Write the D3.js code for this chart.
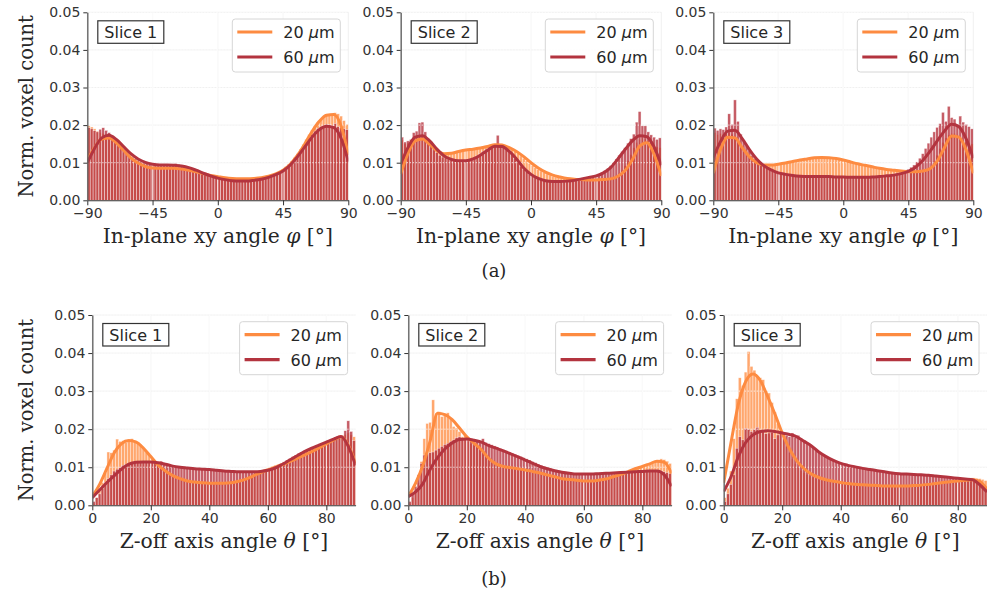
<!DOCTYPE html>
<html><head><meta charset="utf-8">
<script src="https://cdn.jsdelivr.net/npm/d3@7"></script>
<style>body{margin:0;background:#fff;} svg{display:block;}</style>
</head><body><svg id="c" width="987" height="590"></svg>
<script>
// ---------------- DATA (values in units of 1e-3, normalised voxel count) ----------------
const seriesNames = ["20", "60"];            // µm
const sliceLabels = ["Slice 1", "Slice 2", "Slice 3"];
const xyTicks = [-90, -45, 0, 45, 90];
const zTicks = [0, 20, 40, 60, 80];
const yTicks = [0, 0.01, 0.02, 0.03, 0.04, 0.05];
const captions = ["(a)", "(b)"];

// In-plane xy angle histograms: 2° bins from -90 to 90
const xy1_20 = [19.8,19.5,19.0,18.4,18.0,17.8,17.2,16.7,16.0,15.2, 14.3,13.4,12.6,11.8,11.1,10.5,10.0,9.6,9.2,8.9, 8.7,8.6,8.5,8.5,8.4,8.4,8.4,8.4,8.4,8.4, 8.3,8.3,8.2,8.1,8.0,7.8,7.6,7.4,7.2,7.0, 6.8,6.6,6.5,6.3,6.2,6.1,6.0,5.9,5.8,5.8, 5.7,5.7,5.7,5.7,5.7,5.8,5.8,5.9,6.0,6.1, 6.2,6.4,6.6,6.8,7.1,7.4,7.8,8.3,8.9,9.6, 10.4,11.3,12.4,13.6,14.9,16.2,17.5,18.7,19.8,20.8, 21.6,22.2,22.5,22.8,22.9,23.3,23.0,22.4,21.2,20.2];
const xy1_60 = [19.3,19.0,18.5,18.2,18.9,19.3,18.6,18.0,17.2,16.2, 15.3,14.3,13.5,12.6,12.0,11.4,11.0,10.6,10.2,9.9, 9.7,9.5,9.4,9.4,9.3,9.3,9.4,9.3,9.4,9.5, 9.8,9.6,9.3,9.0,8.7,8.4,8.1,7.8,7.5,7.2, 6.9,6.6,6.4,6.2,6.0,5.9,5.7,5.6,5.5,5.4, 5.3,5.3,5.2,5.2,5.2,5.3,5.3,5.4,5.5,5.7, 5.9,6.1,6.4,6.7,7.0,7.4,7.8,8.3,8.9,9.6, 10.4,11.3,12.3,13.3,14.4,15.5,16.5,17.5,18.4,19.1, 19.6,19.9,20.2,20.1,19.9,20.4,19.6,19.3,19.0,18.8];
const xy2_20 = [16.0,15.0,15.2,15.5,16.5,17.0,17.4,17.0,16.2,15.0, 14.0,13.2,12.7,12.4,12.3,12.4,12.5,12.7,12.9,13.1, 13.2,13.3,13.4,13.5,13.6,13.7,13.9,14.1,14.3,14.5, 14.7,14.9,15.0,15.1,15.0,14.7,14.3,13.9,13.5,13.0, 12.4,11.8,11.2,10.5,9.8,9.2,8.7,8.2,7.8,7.4, 7.0,6.7,6.4,6.2,6.0,5.9,5.8,5.7,5.6,5.6, 5.5,5.5,5.4,5.4,5.4,5.4,5.4,5.4,5.5,5.5, 5.6,5.7,5.9,6.2,6.6,7.2,8.0,9.2,10.6,12.2, 14.0,15.4,16.2,16.6,16.4,15.8,15.2,14.6,14.2,14.0];
const xy2_60 = [16.8,15.5,15.8,16.2,18.0,18.4,20.6,20.8,18.2,16.4, 15.0,13.8,12.8,12.0,11.5,11.3,11.0,10.8,10.6,10.5, 10.4,10.4,10.5,10.7,11.0,11.4,11.9,12.4,13.0,13.6, 14.2,14.6,15.0,17.3,14.8,14.4,13.8,13.0,12.1,11.1, 10.1,9.1,8.3,7.6,7.0,6.5,6.1,5.8,5.5,5.3, 5.1,5.0,5.0,4.9,4.9,5.0,5.0,5.1,5.2,5.3, 5.5,5.6,5.8,6.0,6.1,6.3,6.5,6.7,7.0,7.4, 7.9,8.5,9.2,10.0,11.0,12.0,13.0,14.0,15.2,16.4, 17.6,20.8,23.6,19.8,19.8,18.2,17.4,16.8,16.2,16.6];
const xy3_20 = [18.0,17.5,17.8,17.6,17.8,18.0,17.6,17.0,16.0,14.8, 13.6,12.5,11.5,10.7,10.1,9.7,9.4,9.3,9.3,9.3, 9.4,9.5,9.6,9.7,9.8,10.0,10.1,10.3,10.5,10.6, 10.8,10.9,11.0,11.1,11.2,11.3,11.3,11.4,11.4,11.3, 11.3,11.2,11.1,10.9,10.8,10.6,10.4,10.2,10.0,9.8, 9.6,9.4,9.3,9.1,8.9,8.8,8.6,8.5,8.3,8.2, 8.1,8.0,7.9,7.8,7.8,7.7,7.6,7.6,7.6,7.6, 7.6,7.7,7.8,8.0,8.4,9.2,10.4,12.0,13.8,15.4, 16.6,17.4,17.8,17.8,17.4,16.8,16.0,15.6,15.2,15.0];
const xy3_60 = [19.2,18.6,19.0,18.8,19.5,23.0,20.2,26.7,21.0,17.6, 16.0,14.6,13.2,12.0,11.0,10.2,9.5,9.0,8.6,8.2, 7.8,7.5,7.3,7.1,6.9,6.8,6.7,6.6,6.5,6.5, 6.4,6.4,6.3,6.3,6.3,6.3,6.3,6.3,6.3,6.2, 6.3,6.2,6.2,6.2,6.2,6.1,6.1,6.1,6.1,6.0, 6.1,6.1,6.1,6.2,6.2,6.3,6.3,6.4,6.5,6.6, 6.7,6.8,7.0,7.1,7.3,7.6,7.9,8.3,8.8,9.4, 10.2,11.2,12.4,13.8,15.2,16.8,18.2,19.4,20.4,23.4, 21.0,25.0,22.0,21.6,20.2,22.4,20.8,20.2,19.6,19.0];

// In-plane xy angle KDE curves: sampled every 5° from -90 to 90
const xy1_20k = [10.5,14.0,16.3,16.6,15.3,13.3,11.3,9.9,9.0,8.6, 8.5,8.5,8.5,8.3,8.0,7.6,7.1,6.6,6.3,6.0, 5.8,5.7,5.7,5.8,6.0,6.4,7.0,8.0,9.6,12.0, 15.0,18.3,21.0,22.6,22.8,19.8,12.0];
const xy1_60k = [10.0,13.8,16.6,17.3,16.2,14.3,12.4,11.0,10.1,9.6, 9.4,9.4,9.3,9.1,8.7,8.0,7.2,6.5,5.9,5.5, 5.2,5.1,5.1,5.3,5.6,6.1,6.8,7.8,9.4,11.6, 14.2,16.8,18.8,19.7,19.3,16.5,10.3];
const xy2_20k = [7.0,12.5,15.8,16.3,14.9,13.2,12.4,12.5,13.0,13.4, 13.6,13.9,14.3,14.8,14.7,14.0,13.0,11.6,10.0,8.6, 7.5,6.7,6.2,5.8,5.6,5.5,5.4,5.4,5.5,5.7, 6.4,7.9,10.8,14.4,15.3,12.3,6.5];
const xy2_60k = [9.6,14.0,16.8,17.2,15.8,13.6,11.8,10.9,10.5,10.5, 11.0,12.0,13.3,14.4,14.3,13.0,11.0,8.6,6.9,5.8, 5.2,5.0,5.0,5.1,5.3,5.7,6.1,6.5,7.3,8.7, 11.0,13.5,15.8,17.2,16.9,14.2,9.3];
const xy3_20k = [7.2,13.5,16.8,16.6,14.0,11.6,10.0,9.4,9.4,9.6, 9.9,10.3,10.7,11.0,11.3,11.4,11.3,11.1,10.7,10.2, 9.7,9.3,8.9,8.5,8.2,8.0,7.8,7.6,7.6,7.8, 8.4,10.4,14.0,17.1,16.8,13.4,7.2];
const xy3_60k = [11.4,15.6,18.4,18.6,16.4,13.5,11.0,9.2,8.1,7.3, 6.9,6.6,6.4,6.3,6.3,6.3,6.3,6.2,6.2,6.1, 6.1,6.1,6.2,6.3,6.5,6.7,7.1,7.7,8.8,10.6, 13.0,15.8,18.4,20.2,19.6,16.4,11.2];

// Z-off axis angle histograms: 1° bins from 0 to 90
const z1_20 = [0.5,2.0,4.0,6.0,8.5,14.0,13.8,14.5,17.4,16.8, 17.0,16.5,17.2,17.5,17.0,16.5,16.0,15.0,14.0,13.0, 12.3,11.2,10.5,9.8,9.2,8.7,8.2,7.8,7.4,7.1, 6.8,6.6,6.4,6.3,6.2,6.1,6.0,6.0,5.9,5.9, 5.9,5.8,5.8,5.8,5.9,5.9,6.0,6.1,6.2,6.3, 6.5,6.8,7.1,7.5,7.9,8.3,8.7,9.0,9.3,9.6, 9.9,10.2,10.5,10.8,11.1,11.4,11.8,12.1,12.5,12.8, 13.2,13.5,13.9,14.2,14.6,15.0,15.3,15.7,16.0,16.4, 16.8,17.1,17.4,17.7,18.0,18.2,18.6,19.0,18.5,18.0];
const z1_60 = [1.0,2.0,3.0,4.5,6.0,7.0,8.0,9.0,9.5,10.0, 10.5,10.8,11.0,11.2,11.3,11.4,11.5,11.5,11.4,11.5, 11.3,11.4,11.2,11.6,11.1,10.8,10.6,10.4,10.3,10.1, 10.0,9.9,9.8,9.8,9.7,9.6,9.6,9.5,9.5,9.4, 9.4,9.3,9.3,9.2,9.1,9.1,9.0,9.0,8.9,8.9, 8.8,8.8,8.8,8.7,8.8,8.8,8.8,8.9,9.0,9.1, 9.3,9.6,10.0,10.4,10.9,11.4,11.9,12.3,12.8,13.2, 13.6,14.0,14.3,14.7,15.0,15.3,15.6,15.9,16.1,16.4, 16.7,16.9,17.2,17.6,18.0,18.4,19.6,22.2,19.4,17.0];
const z2_20 = [0.5,2.0,3.5,6.0,11.5,17.5,21.5,21.8,27.7,24.2, 24.6,23.3,24.0,24.3,22.9,20.7,20.3,19.4,18.0,18.3, 16.8,16.2,15.8,15.5,15.0,14.3,13.5,12.6,11.9,11.3, 10.8,10.5,10.3,10.1,10.0,9.9,9.8,9.7,9.5,9.4, 9.3,9.1,9.0,8.8,8.6,8.5,8.3,8.1,7.9,7.7, 7.5,7.3,7.1,7.0,6.9,6.8,6.7,6.6,6.5,6.5, 6.4,6.4,6.4,6.5,6.5,6.6,6.7,6.9,7.1,7.3, 7.5,7.8,8.1,8.3,8.6,8.9,9.2,9.5,9.8,10.1, 10.3,10.6,10.9,11.2,11.5,11.8,12.2,12.0,11.6,11.0];
const z2_60 = [1.0,3.0,5.0,8.0,11.0,13.2,13.5,13.8,14.0,14.5, 15.0,15.5,16.0,16.3,16.8,17.2,17.8,18.0,17.6,17.5, 17.5,17.3,17.2,17.0,16.8,17.5,16.5,16.2,15.9,15.6, 15.2,14.9,14.6,14.3,14.0,13.7,13.4,13.1,12.8,12.5, 12.2,11.9,11.5,11.2,10.8,10.5,10.2,10.0,9.7,9.5, 9.3,9.1,8.9,8.8,8.7,8.6,8.5,8.4,8.4,8.3, 8.3,8.3,8.3,8.4,8.4,8.4,8.4,8.5,8.5,8.5, 8.5,8.6,8.6,8.6,8.7,8.7,8.7,8.8,8.8,8.8, 8.9,8.9,9.0,9.0,9.1,9.2,9.0,8.8,8.6,8.4];
const z3_20 = [2.0,4.5,9.0,17.5,28.0,33.5,31.5,35.0,40.4,36.5, 35.5,34.0,33.5,33.0,30.0,29.5,27.0,24.5,21.5,19.5, 17.5,15.5,13.8,12.2,11.0,10.0,9.2,8.6,8.1,7.7, 7.4,7.1,6.9,6.7,6.5,6.4,6.3,6.2,6.1,6.0, 5.9,5.8,5.7,5.6,5.6,5.5,5.5,5.4,5.4,5.3, 5.3,5.2,5.2,5.2,5.1,5.1,5.1,5.1,5.1,5.1, 5.1,5.1,5.1,5.2,5.2,5.2,5.3,5.3,5.4,5.5, 5.6,5.7,5.8,5.9,6.0,6.1,6.2,6.3,6.4,6.5, 6.6,6.8,7.0,7.1,7.2,7.2,7.1,7.0,6.8,6.5];
const z3_60 = [1.0,3.0,5.5,8.0,15.0,18.0,17.2,20.2,20.0,19.4, 20.0,20.5,19.4,19.6,18.8,19.0,19.2,17.5,18.5,18.8, 18.5,18.4,18.0,19.0,17.8,18.4,17.4,17.0,16.4,16.0, 15.2,14.6,14.0,13.5,13.0,12.6,12.2,11.8,11.5,11.2, 11.0,10.8,10.6,10.4,10.2,10.0,9.8,9.7,9.5,9.4, 9.2,9.1,8.9,8.8,8.7,8.6,8.5,8.4,8.3,8.2, 8.2,8.1,8.1,8.0,8.0,8.0,7.9,7.9,8.2,7.8, 7.8,7.7,7.6,7.6,7.5,7.4,7.3,7.2,7.1,7.0, 6.9,6.8,6.8,6.7,6.6,6.5,6.3,6.0,5.6,5.0];

// Z-off axis KDE curves: sampled every 2.5° from 0 to 90
const z1_20k = [2.3,5.5,9.7,13.8,16.2,17.0,16.6,15.0,12.8,10.6, 9.0,7.8,7.0,6.4,6.1,5.9,5.8,5.8,5.8,5.9, 6.3,6.9,7.7,8.6,9.3,10.0,10.7,11.5,12.3,13.2, 14.1,15.1,16.1,17.2,18.0,15.8,11.0];
const z1_60k = [2.0,4.0,6.0,7.8,9.5,10.8,11.3,11.4,11.4,11.2, 10.8,10.3,10.0,9.8,9.6,9.5,9.4,9.2,9.0,8.9, 8.8,8.8,8.8,8.9,9.2,9.8,10.8,11.9,13.0,14.1, 15.0,15.8,16.6,17.4,18.1,15.5,10.5];
const z2_20k = [2.3,5.8,10.5,17.0,24.2,23.8,22.5,20.3,18.0,16.3, 14.6,12.3,10.9,10.2,9.9,9.6,9.3,8.9,8.5,8.0, 7.5,7.0,6.8,6.6,6.4,6.4,6.6,6.9,7.5,8.1, 8.8,9.6,10.2,10.9,11.6,11.3,8.4];
const z2_60k = [2.3,3.5,5.7,9.5,12.5,14.8,16.4,17.3,17.4,17.1, 16.6,15.7,15.0,14.3,13.5,12.7,11.9,11.0,10.2,9.6, 9.1,8.7,8.4,8.2,8.2,8.2,8.3,8.4,8.5,8.6, 8.7,8.8,8.9,9.0,9.0,8.0,5.0];
const z3_20k = [5.9,16.5,26.5,32.5,34.5,32.8,28.6,24.0,19.0,14.8, 11.7,9.6,8.2,7.3,6.7,6.3,6.0,5.7,5.5,5.4, 5.3,5.2,5.1,5.1,5.1,5.1,5.2,5.3,5.5,5.7, 6.0,6.2,6.4,6.6,6.7,6.3,4.2];
const z3_60k = [3.6,7.5,12.8,16.5,18.5,19.4,19.6,19.4,19.0,18.6, 18.0,16.8,15.6,14.0,12.8,11.8,11.0,10.5,10.1,9.7, 9.4,9.1,8.8,8.5,8.3,8.2,8.1,8.0,7.9,7.7, 7.5,7.3,7.1,6.9,6.7,5.4,3.5];

// ---------------- DRAWING ----------------
const svg = d3.select("#c");
const SANS = "'DejaVu Sans', sans-serif", SERIF = "'DejaVu Serif', serif";
const LINE = {"20": "#fd8b41", "60": "#b3343f"};
const BAR = {"20": "#ff8a3d", "60": "#b83440"};
const BAR_OP = {"20": 0.75, "60": 0.8};
const milli = a => a.map(v => v / 1000);

const xyDef = {domain: [-90, 90], ticks: xyTicks, binStart: -90, binW: 2, kdeStep: 5, label: "xy"};
const zDef = {domain: [0, 90], ticks: zTicks, binStart: 0, binW: 1, kdeStep: 2.5, label: "z"};

const panels = [
  {def: xyDef, left: 87.3, width: 261, top: 12.3, bottom: 200.3, h: {"20": xy1_20, "60": xy1_60}, k: {"20": xy1_20k, "60": xy1_60k}, slice: 0, ylab: true},
  {def: xyDef, left: 400.7, width: 260.6, top: 12.3, bottom: 200.3, h: {"20": xy2_20, "60": xy2_60}, k: {"20": xy2_20k, "60": xy2_60k}, slice: 1},
  {def: xyDef, left: 713.3, width: 260, top: 12.3, bottom: 200.3, h: {"20": xy3_20, "60": xy3_60}, k: {"20": xy3_20k, "60": xy3_60k}, slice: 2},
  {def: zDef, left: 92.3, width: 263.3, top: 315, bottom: 505.3, h: {"20": z1_20, "60": z1_60}, k: {"20": z1_20k, "60": z1_60k}, slice: 0, ylab: true},
  {def: zDef, left: 408.3, width: 263.3, top: 315, bottom: 505.3, h: {"20": z2_20, "60": z2_60}, k: {"20": z2_20k, "60": z2_60k}, slice: 1},
  {def: zDef, left: 723.7, width: 263.3, top: 315, bottom: 505.3, h: {"20": z3_20, "60": z3_60}, k: {"20": z3_20k, "60": z3_60k}, slice: 2}
];

const fmtX = d => d < 0 ? "\u2212" + (-d) : String(d);

panels.forEach((p, pi) => {
  const D = p.def;
  const x = d3.scaleLinear().domain(D.domain).range([p.left, p.left + p.width]);
  const y = d3.scaleLinear().domain([0, 0.05]).range([p.bottom, p.top]);
  const g = svg.append("g");

  const clipId = "clip" + pi;
  svg.append("clipPath").attr("id", clipId).append("rect")
    .attr("x", p.left).attr("y", p.top - 2).attr("width", p.width).attr("height", p.bottom - p.top + 2);

  // background grid
  const gridBg = g.append("g").attr("stroke", "#ececec").attr("stroke-width", 0.8);
  gridBg.selectAll("line.h").data(yTicks.slice(1)).join("line")
    .attr("x1", p.left).attr("x2", p.left + p.width).attr("y1", d => y(d)).attr("y2", d => y(d));
  gridBg.selectAll("line.v").data(D.ticks).join("line")
    .attr("x1", d => x(d)).attr("x2", d => x(d)).attr("y1", p.top).attr("y2", p.bottom);

  // histogram bars
  const plot = g.append("g").attr("clip-path", `url(#${clipId})`);
  seriesNames.forEach(s => {
    const vals = milli(p.h[s]);
    plot.append("g").selectAll("rect").data(vals).join("rect")
      .attr("x", (d, i) => x(D.binStart + i * D.binW))
      .attr("width", (d, i) => x(D.binStart + (i + 1) * D.binW) - x(D.binStart + i * D.binW))
      .attr("y", d => y(d))
      .attr("height", d => y(0) - y(d))
      .attr("fill", BAR[s]).attr("fill-opacity", BAR_OP[s])
      .attr("stroke", "#fff").attr("stroke-width", 0.5).attr("stroke-opacity", 0.75);
  });

  // overlay grid (visible over bars)
  const gridFg = plot.append("g").attr("stroke", "#ffffff").attr("stroke-opacity", 0.85);
  gridFg.selectAll("line.h").data(yTicks.slice(1)).join("line")
    .attr("x1", p.left).attr("x2", p.left + p.width).attr("y1", d => y(d)).attr("y2", d => y(d))
    .attr("stroke-width", 1).attr("stroke-dasharray", "1.2,1.8");
  gridFg.selectAll("line.v").data(D.ticks.filter(t => t !== D.domain[0] && t !== D.domain[1])).join("line")
    .attr("x1", d => x(d)).attr("x2", d => x(d)).attr("y1", p.top).attr("y2", p.bottom)
    .attr("stroke-width", 0.9);

  // KDE lines
  seriesNames.forEach(s => {
    const pts = milli(p.k[s]).map((v, i) => [D.domain[0] + i * D.kdeStep, v]);
    plot.append("path").datum(pts)
      .attr("fill", "none").attr("stroke", LINE[s]).attr("stroke-width", 3)
      .attr("stroke-linejoin", "round").attr("stroke-linecap", "butt")
      .attr("d", d3.line().x(d => x(d[0])).y(d => y(d[1])).curve(d3.curveMonotoneX));
  });

  // axes
  const ax = g.append("g").attr("transform", `translate(0,${p.bottom})`)
    .call(d3.axisBottom(x).tickValues(D.ticks).tickFormat(fmtX).tickSize(5).tickPadding(3).tickSizeOuter(0));
  const ay = g.append("g").attr("transform", `translate(${p.left},0)`)
    .call(d3.axisLeft(y).tickValues(yTicks).tickFormat(d3.format(".2f")).tickSize(4).tickPadding(3).tickSizeOuter(0));
  [ax, ay].forEach(a => {
    a.selectAll("text").attr("font-family", SANS).attr("font-size", 14).attr("fill", "#333");
    a.selectAll(".tick line").attr("stroke", "#333");
  });
  ax.select(".domain").attr("stroke", "#333").attr("stroke-width", 1.1);
  ay.select(".domain").attr("stroke", "#666").attr("stroke-width", 1.4);

  // x label
  const xl = g.append("text").attr("x", p.left + p.width / 2).attr("y", p.bottom + 43)
    .attr("text-anchor", "middle").attr("font-family", SERIF).attr("font-size", 20.3).attr("fill", "#262626");
  if (D.label === "xy") {
    xl.append("tspan").text("In-plane xy angle ");
    xl.append("tspan").attr("font-style", "italic").text("\u03c6");
  } else {
    xl.append("tspan").text("Z-off axis angle ");
    xl.append("tspan").attr("font-style", "italic").text("\u03b8");
  }
  xl.append("tspan").text(" [\u00b0]");

  // y label
  if (p.ylab) {
    const cy = (p.top + p.bottom) / 2, cx = 33;
    g.append("text").attr("transform", `translate(${cx},${cy}) rotate(-90)`)
      .attr("text-anchor", "middle").attr("font-family", SERIF).attr("font-size", 19.5).attr("fill", "#262626")
      .text("Norm. voxel count");
  }

  // slice box
  const sx = p.left + 10.5, sy = p.top + 8.5;
  const sb = g.append("g");
  sb.append("rect").attr("x", sx).attr("y", sy).attr("width", 66).attr("height", 22.5)
    .attr("fill", "#fff").attr("stroke", "#333").attr("stroke-width", 1.2);
  sb.append("text").attr("x", sx + 33).attr("y", sy + 17).attr("text-anchor", "middle")
    .attr("font-family", SANS).attr("font-size", 16).attr("fill", "#262626").text(sliceLabels[p.slice]);

  // legend
  const R = p.left + p.width;
  const lg = g.append("g");
  lg.append("rect").attr("x", R - 116).attr("y", p.top + 6.7).attr("width", 108).attr("height", 53)
    .attr("rx", 3).attr("fill", "#fff").attr("fill-opacity", 0.85).attr("stroke", "#d6d6d6").attr("stroke-width", 1);
  seriesNames.forEach((s, i) => {
    const ry = p.top + 19.7 + i * 25;
    lg.append("line").attr("x1", R - 111).attr("x2", R - 76).attr("y1", ry).attr("y2", ry)
      .attr("stroke", LINE[s]).attr("stroke-width", 3.2);
    const t = lg.append("text").attr("x", R - 65).attr("y", ry + 5.8)
      .attr("font-family", SANS).attr("font-size", 16).attr("fill", "#262626");
    t.append("tspan").text(s + " ");
    t.append("tspan").attr("font-style", "italic").text("\u03bc");
    t.append("tspan").text("m");
  });
});

// captions
svg.append("text").attr("x", 494).attr("y", 277).attr("text-anchor", "middle")
  .attr("font-family", SERIF).attr("font-size", 18).attr("fill", "#262626").text(captions[0]);
svg.append("text").attr("x", 494).attr("y", 585).attr("text-anchor", "middle")
  .attr("font-family", SERIF).attr("font-size", 18).attr("fill", "#262626").text(captions[1]);
</script></body></html>
